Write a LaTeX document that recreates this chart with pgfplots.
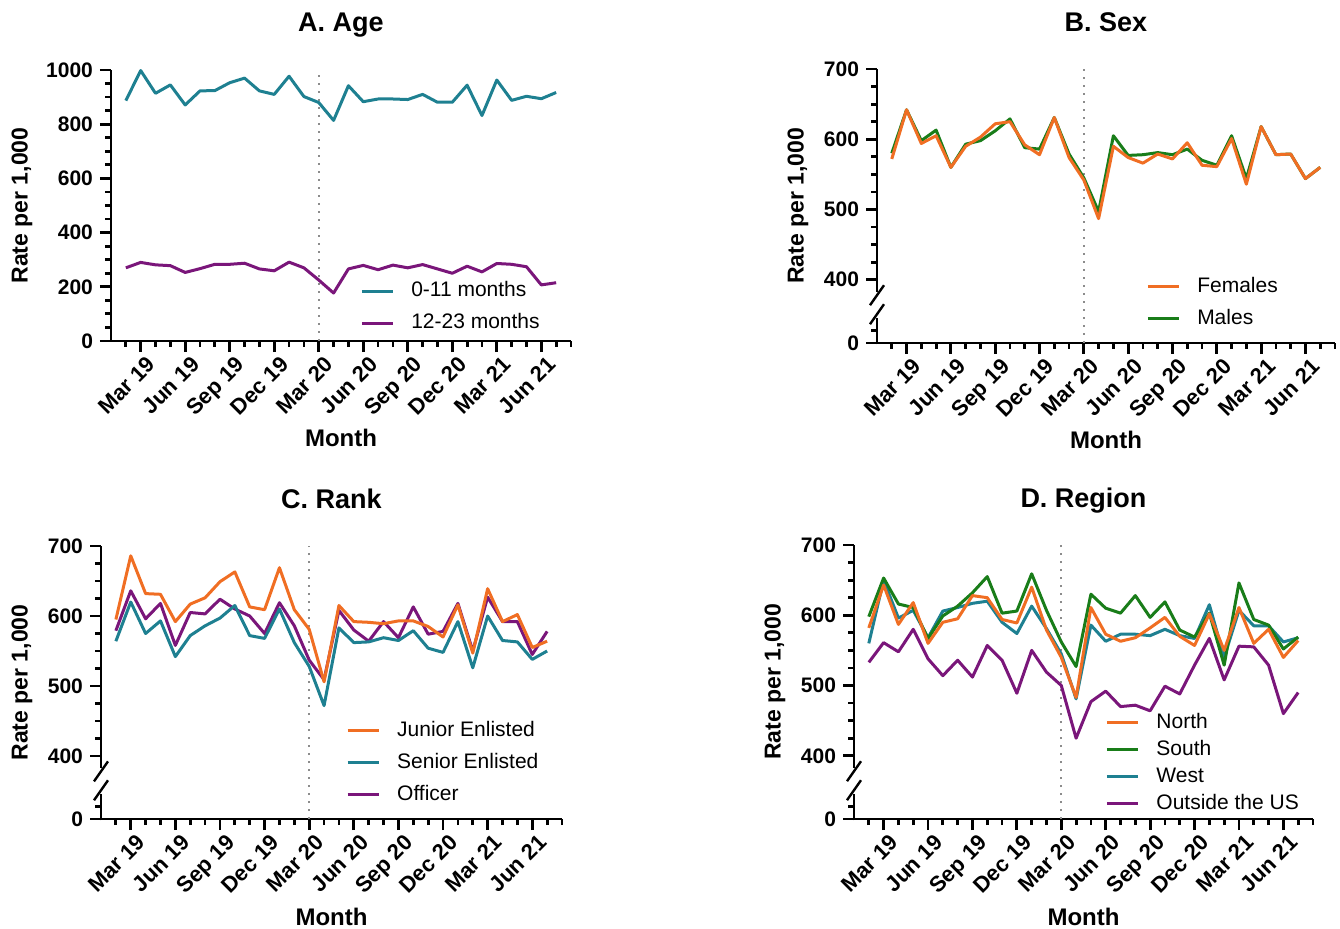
\documentclass[border=0pt]{standalone}
\usepackage{fontspec}
\setmainfont{Liberation Sans}
\usepackage{pgfplots}
\pgfplotsset{compat=1.18}
\usepackage{pgfplotstable}

\definecolor{cteal}{RGB}{30,128,145}
\definecolor{cpurple}{RGB}{122,22,122}
\definecolor{corange}{RGB}{240,110,35}
\definecolor{cgreen}{RGB}{25,125,25}

% month index: 1 = Feb 19, 2 = Mar 19, ..., 14 = Mar 20, ..., 30 = Jul 21
\pgfplotstableread{
m a b
1 887 270
2 998 290
3 914 281
4 945 278
5 871 253
6 923 267
7 924 283
8 953 283
9 970 287
10 923 266
11 910 259
12 977 291
13 902 270
14 880 225
15 814 177
16 942 266
17 883 279
18 893 263
19 893 280
20 891 270
21 910 282
22 881 266
23 881 250
24 944 276
25 832 255
26 963 286
27 888 283
28 903 274
29 894 207
30 917 215
}\tabA

\pgfplotstableread{
m F M
1 572 580
2 642 642
3 594 598
4 605 613
5 560 560
6 590 593
7 603 598
8 622 612
9 625 629
10 592 588
11 578 586
12 631 631
13 574 579
14 542 545
15 487 497
16 590 605
17 574 577
18 566 578
19 579 581
20 572 578
21 595 586
22 563 570
23 561 563
24 601 605
25 536 544
26 618 618
27 578 578
28 579 579
29 544 544
30 560 560
}\tabB

\pgfplotstableread{
m J S O
1 595 564 579
2 686 620 636
3 632 575 596
4 631 593 618
5 592 542 558
6 617 572 605
7 626 586 603
8 649 597 624
9 663 615 610
10 613 572 600
11 609 568 575
12 669 610 619
13 609 562 586
14 581 528 537
15 506 472 509
16 615 583 608
17 592 562 580
18 591 563 564
19 589 569 592
20 593 565 569
21 593 579 613
22 585 554 574
23 570 548 578
24 616 592 618
25 547 526 550
26 639 600 627
27 592 565 592
28 602 563 592
29 555 538 545
30 564 550 578
}\tabC

\pgfplotstableread{
m N S W O
1 582 598 560 533
2 643 653 650 561
3 587 616 596 548
4 618 611 607 580
5 560 567 568 538
6 590 599 606 514
7 595 613 611 536
8 628 632 617 512
9 625 655 620 557
10 594 603 590 536
11 589 606 574 489
12 640 659 613 550
13 579 607 581 519
14 540 562 545 500
15 483 527 481 425
16 611 630 586 477
17 573 610 563 492
18 563 603 573 470
19 568 628 573 472
20 582 597 571 464
21 597 619 580 499
22 570 579 571 488
23 557 569 567 529
24 602 603 615 567
25 550 529 540 508
26 611 646 607 556
27 560 594 585 555
28 580 586 585 529
29 540 552 562 460
30 564 569 568 490
}\tabD

\tikzset{
  dotline/.style={draw=black!45, line width=1.2pt, dash pattern=on 1.2pt off 2.8pt},
}

\pgfplotsset{
  prism/.style={
    scale only axis,
    clip=false,
    axis lines=left,
    axis line style={line width=1.4pt,-},
    xmin=0, xmax=31,
    xtick={2,5,...,29},
    xticklabels={Mar 19,Jun 19,Sep 19,Dec 19,Mar 20,Jun 20,Sep 20,Dec 20,Mar 21,Jun 21},
    minor xtick={1,...,31},
    tick align=outside,
    major tick length=5.5pt,
    minor tick length=3pt,
    every tick/.style={line width=1.4pt, black},
    x tick label style={xshift=2.5pt, rotate=45, anchor=north east, font=\fontsize{11}{12}\selectfont\bfseries, inner sep=1pt},
    y tick label style={font=\fontsize{10.5}{12}\selectfont\bfseries},
    title style={font=\fontsize{13.5}{16}\selectfont\bfseries, at={([yshift=13pt]axis description cs:0.5,1)}, anchor=base},
    xlabel={Month},
    xlabel style={font=\fontsize{12}{14}\selectfont\bfseries, at={([yshift=-53pt]axis description cs:0.5,0)}, anchor=base},
    ylabel={Rate per 1,000},
    ylabel style={font=\fontsize{11.5}{14}\selectfont\bfseries, at={([xshift=-39.5pt]axis description cs:0,0.5)}, anchor=center},
    legend style={draw=none, fill=none, font=\fontsize{10.5}{12}\selectfont, anchor=north west, inner sep=0pt, column sep=8.5pt, row sep=6.5pt, nodes={inner sep=0pt, text height=7.5pt, text depth=2pt}},
    legend cell align=left,
    legend image code/.code={\draw[#1] (0pt,0pt) -- (15.5pt,0pt);},
    every axis plot/.append style={line width=1.5pt, line join=round, mark=none},
  },
  brk/.style={
    y axis line style={draw=none},
    ymin=0, ymax=390,
    ytick={0,90,190,290,390},
    yticklabels={0,400,500,600,700},
    minor ytick={18,115,140,165,215,240,265,315,340,365},
  },
}

\newcommand{\breakaxis}{%
  \draw[line width=1.4pt] ([yshift=-0.7pt]axis cs:0,0) -- (axis cs:0,36);
  \draw[line width=1.4pt] (axis cs:0,73) -- (axis cs:0,390);
  \draw[line width=1.2pt] ([xshift=-3.5pt,yshift=-5pt]axis cs:0,68) -- ([xshift=3.5pt,yshift=5pt]axis cs:0,68);
  \draw[line width=1.2pt] ([xshift=-3.5pt,yshift=-5pt]axis cs:0,41) -- ([xshift=3.5pt,yshift=5pt]axis cs:0,41);
}

\begin{document}
\begin{tikzpicture}
\path[use as bounding box] (0,0) rectangle (670pt,464pt);

% A. Age
\begin{axis}[prism, at={(55.5pt,293.5pt)}, anchor=south west, width=230pt, height=135.5pt,
  ymin=0, ymax=1000, ytick={0,200,...,1000}, yticklabels={0,200,400,600,800,1000},
  minor y tick num=3, title={A. Age},
  ylabel style={at={([xshift=-44.5pt]axis description cs:0,0.5)}},
  legend style={at={(0.541,0.221)}}]
  \draw[dotline] (axis cs:14,0) -- (axis cs:14,1000);
  \addplot[cteal] table[x=m,y=a]{\tabA};
  \addplot[cpurple] table[x=m,y=b]{\tabA};
  \legend{0-11 months,12-23 months}
\end{axis}

% B. Sex
\begin{axis}[prism, brk, at={(438.5pt,292.5pt)}, anchor=south west, width=229pt, height=137pt,
  title={B. Sex}, legend style={at={(0.587,0.241)}}, reverse legend]
  \draw[dotline] (axis cs:14,0) -- (axis cs:14,390);
  \addplot[cgreen] table[x=m,y expr=\thisrow{M}-310]{\tabB};
  \addplot[corange] table[x=m,y expr=\thisrow{F}-310]{\tabB};
  \legend{Males,Females}
  \breakaxis
\end{axis}

% C. Rank
\begin{axis}[prism, brk, at={(50.5pt,54.5pt)}, anchor=south west, width=230.5pt, height=136.5pt,
  title={C. Rank}, legend style={at={(0.531,0.359)}}, reverse legend]
  \draw[dotline] (axis cs:14,0) -- (axis cs:14,390);
  \addplot[cpurple] table[x=m,y expr=\thisrow{O}-310]{\tabC};
  \addplot[cteal] table[x=m,y expr=\thisrow{S}-310]{\tabC};
  \addplot[corange] table[x=m,y expr=\thisrow{J}-310]{\tabC};
  \legend{Officer,Senior Enlisted,Junior Enlisted}
  \breakaxis
\end{axis}

% D. Region
\begin{axis}[prism, brk, at={(427pt,54.5pt)}, anchor=south west, width=229.5pt, height=137pt,
  title={D. Region}, legend style={at={(0.547,0.387)}, row sep=4pt}, reverse legend]
  \draw[dotline] (axis cs:14,0) -- (axis cs:14,390);
  \addplot[cpurple] table[x=m,y expr=\thisrow{O}-310]{\tabD};
  \addplot[cteal] table[x=m,y expr=\thisrow{W}-310]{\tabD};
  \addplot[cgreen] table[x=m,y expr=\thisrow{S}-310]{\tabD};
  \addplot[corange] table[x=m,y expr=\thisrow{N}-310]{\tabD};
  \legend{Outside the US,West,South,North}
  \breakaxis
\end{axis}
\end{tikzpicture}
\end{document}
